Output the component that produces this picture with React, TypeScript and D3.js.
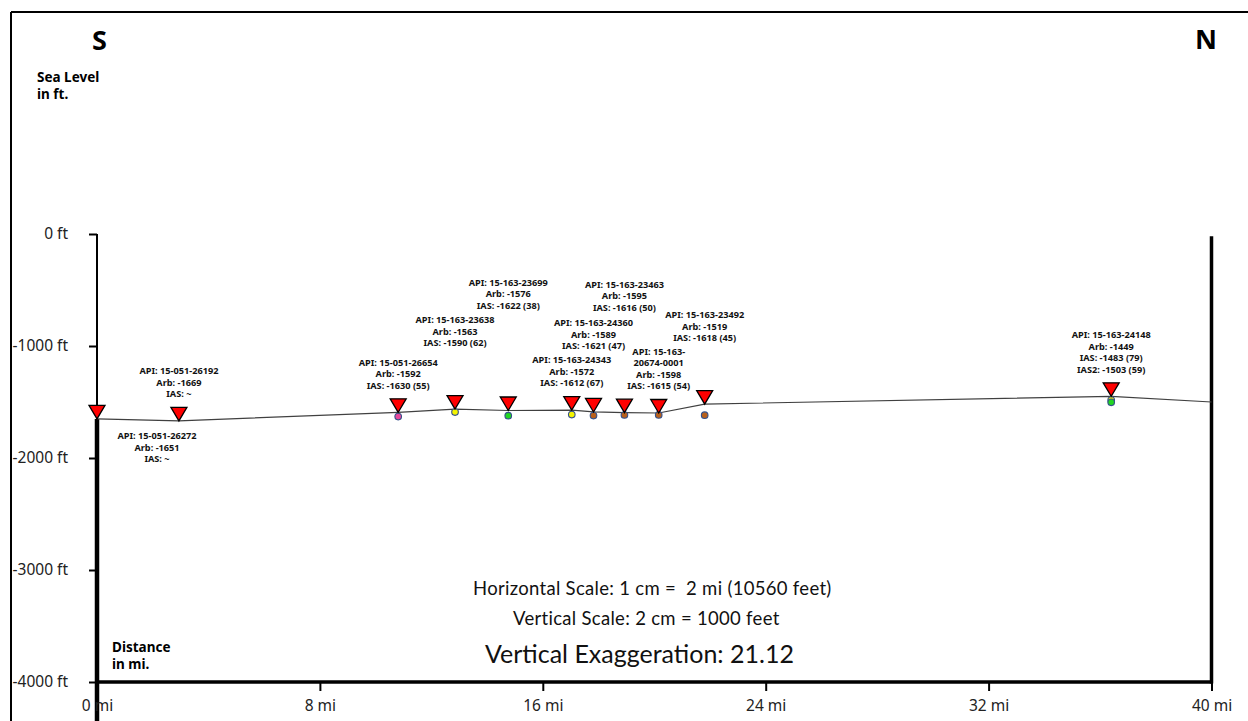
import React, { useEffect, useRef } from "react";
import * as d3 from "d3";

// wells along the S -> N section
const wellApi = ["15-051-26272", "15-051-26192", "15-051-26654", "15-163-23638", "15-163-23699", "15-163-24343",
  "15-163-24360", "15-163-23463", "15-163-20674-0001", "15-163-23492", "15-163-24148"];
const wellMiles = [0, 2.94, 10.81, 12.85, 14.76, 17.04, 17.82, 18.93, 20.16, 21.81, 36.4];
const wellArb = [-1651, -1669, -1592, -1563, -1576, -1572, -1589, -1595, -1598, -1519, -1449];
const wellIas = [null, null, -1630, -1590, -1622, -1612, -1621, -1616, -1615, -1618, -1483];
const wellIasNum = [null, null, 55, 62, 38, 67, 47, 50, 54, 45, 79];
const wellIas2 = [null, null, null, null, null, null, null, null, null, null, -1503];
const wellIas2Num = [null, null, null, null, null, null, null, null, null, null, 59];
const wellDotColor = [null, null, "#e8489c", "#f4f400", "#22d622", "#f4f400", "#b8601c", "#b8601c", "#b8601c", "#b8601c", "#f4f400"];
const wellDot2Color = [null, null, null, null, null, null, null, null, null, null, "#22d622"];
// label stagger row (-1 = below the marker)
const labelTier = [-1, 0, 0, 1, 2, 0, 1, 2, 0, 1, 0];

// profile continues to the north edge
const endMiles = 40;
const endArb = -1500;

const depthTicks = [0, -1000, -2000, -3000, -4000];
const mileTicks = [0, 8, 16, 24, 32, 40];

const W = 1248;
const H = 721;

const App = () => {
  const ref = useRef<SVGSVGElement>(null);

  useEffect(() => {
    drawChart();
  }, []);

  const drawChart = () => {
    const svg = d3.select(ref.current);
    svg.selectAll("*").remove();

    const x = d3.scaleLinear().domain([0, 40]).range([97, 1211.5]);
    const y = d3.scaleLinear().domain([-4000, 0]).range([682, 234]);

    // frame
    svg.append("line").attr("x1", 11).attr("x2", W).attr("y1", 12).attr("y2", 12)
      .attr("stroke", "#000").attr("stroke-width", 2);
    svg.append("line").attr("x1", 11).attr("x2", 11).attr("y1", 12).attr("y2", H)
      .attr("stroke", "#000").attr("stroke-width", 2);

    // header text
    svg.append("text").text("S").attr("x", 92).attr("y", 50)
      .attr("font-family", "Noto Sans").attr("font-weight", "bold").attr("font-size", 27);
    svg.append("text").text("N").attr("x", 1195).attr("y", 49)
      .attr("font-family", "Noto Sans").attr("font-weight", "bold").attr("font-size", 27);

    const label2 = (lines, lx, ly) => {
      lines.forEach((t, i) => {
        svg.append("text").text(t).attr("x", lx).attr("y", ly + i * 17)
          .attr("font-family", "Noto Sans").attr("font-weight", "bold").attr("font-size", 13.5);
      });
    };
    label2(["Sea Level", "in ft."], 37, 82);
    label2(["Distance", "in mi."], 112, 652);

    // y axis
    const yAxis = svg.append("g").attr("transform", `translate(${x(0)},0)`)
      .call(d3.axisLeft(y).tickValues(depthTicks).tickFormat(d => `${d} ft`).tickSize(8).tickPadding(21));
    yAxis.attr("font-size", null).attr("font-family", null);
    yAxis.select(".domain").remove();
    yAxis.selectAll("line").attr("stroke-width", 2);
    yAxis.selectAll("text").style("font-family", "Noto Sans").style("font-size", "15.5px").attr("fill", "#222");

    svg.append("line").attr("x1", x(0)).attr("x2", x(0)).attr("y1", y(0)).attr("y2", y(wellArb[0]))
      .attr("stroke", "#000").attr("stroke-width", 2);
    svg.append("line").attr("x1", x(0)).attr("x2", x(0)).attr("y1", y(wellArb[0])).attr("y2", H)
      .attr("stroke", "#000").attr("stroke-width", 4.5);

    // x axis
    const xAxis = svg.append("g").attr("transform", `translate(0,${y(-4000)})`)
      .call(d3.axisBottom(x).tickValues(mileTicks).tickFormat(d => `${d} mi`).tickSize(9).tickPadding(9));
    xAxis.attr("font-size", null).attr("font-family", null);
    xAxis.select(".domain").remove();
    xAxis.selectAll("line").attr("stroke-width", 2);
    xAxis.selectAll("text").style("font-family", "Noto Sans").style("font-size", "15.5px").attr("fill", "#222");

    svg.append("line").attr("x1", x(0)).attr("x2", x(40)).attr("y1", y(-4000)).attr("y2", y(-4000))
      .attr("stroke", "#000").attr("stroke-width", 3.5);
    svg.append("line").attr("x1", x(40)).attr("x2", x(40)).attr("y1", y(-20)).attr("y2", y(-4000) + 1.5)
      .attr("stroke", "#000").attr("stroke-width", 3.5);

    // profile line through the Arb tops
    const pts = wellMiles.map((m, i) => [m, wellArb[i]]).concat([[endMiles, endArb]]);
    svg.append("path")
      .attr("d", d3.line().x(d => x(d[0])).y(d => y(d[1]))(pts))
      .attr("fill", "none").attr("stroke", "#404040").attr("stroke-width", 1.2);

    // IAS dots
    const dots = [];
    wellMiles.forEach((m, i) => {
      if (wellIas[i] != null) dots.push({ m, v: wellIas[i], c: wellDotColor[i] });
      if (wellIas2[i] != null) dots.push({ m, v: wellIas2[i], c: wellDot2Color[i] });
    });
    svg.selectAll("circle.ias").data(dots).enter().append("circle")
      .attr("class", "ias")
      .attr("cx", d => x(d.m)).attr("cy", d => y(d.v)).attr("r", 3.3)
      .attr("fill", d => d.c).attr("stroke", "#34508a").attr("stroke-width", 1.1);

    // well markers
    svg.selectAll("path.well").data(wellMiles).enter().append("path")
      .attr("class", "well")
      .attr("d", (m, i) => {
        const px = x(m), py = y(wellArb[i]);
        return `M${px},${py}L${px - 8},${py - 13.5}L${px + 8},${py - 13.5}Z`;
      })
      .attr("fill", "#ff0000").attr("stroke", "#000").attr("stroke-width", 1.3);

    // well labels
    wellMiles.forEach((m, i) => {
      const api = wellApi[i];
      const lines = api.length > 12 ? [`API: ${api.slice(0, 7)}`, api.slice(7)] : [`API: ${api}`];
      lines.push(`Arb: ${wellArb[i]}`);
      lines.push(wellIas[i] == null ? "IAS: ~" : `IAS: ${wellIas[i]} (${wellIasNum[i]})`);
      if (wellIas2[i] != null) lines.push(`IAS2: ${wellIas2[i]} (${wellIas2Num[i]})`);
      const tier = labelTier[i];
      const lh = 11.5;
      let top;
      let cx = x(m);
      if (tier < 0) {
        top = y(wellArb[i]) + 17;
        cx += 60;
      } else {
        const bottom = y(wellArb[i]) - 27 - tier * 39;
        top = bottom - (lines.length - 1) * lh;
      }
      lines.forEach((t, j) => {
        svg.append("text").text(t)
          .attr("x", cx).attr("y", top + j * lh).attr("dy", "0.35em")
          .attr("text-anchor", "middle")
          .attr("font-family", "Noto Sans").attr("font-weight", "bold").attr("font-size", 9.2)
          .attr("fill", "#111");
      });
    });

    // scale notes
    const note = (t, nx, ny, fs, ls) => {
      svg.append("text").text(t).attr("x", nx).attr("y", ny)
        .attr("font-family", "Lato").attr("font-size", fs).attr("fill", "#111")
        .attr("letter-spacing", ls)
        .style("white-space", "pre");
    };
    note("Horizontal Scale: 1 cm =  2 mi (10560 feet)", 473, 595, 18.5, 0.3);
    note("Vertical Scale: 2 cm = 1000 feet", 513, 625, 18.5, 0.3);
    note("Vertical Exaggeration: 21.12", 485, 663, 25, 0);
  };

  return (
    <div style={{ position: "absolute", left: 0, top: 0 }}>
      <svg ref={ref} width={W} height={H} style={{ display: "block", background: "#fff" }}></svg>
    </div>
  );
};

export default App;
